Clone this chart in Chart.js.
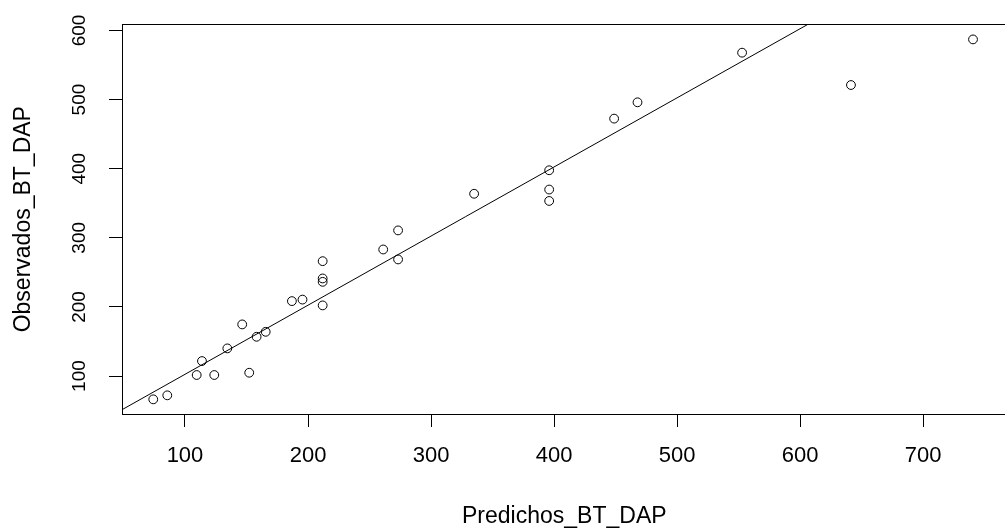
<!DOCTYPE html>
<html>
<head>
<meta charset="utf-8">
<script src="https://cdn.jsdelivr.net/npm/chart.js@4/dist/chart.umd.min.js"></script>
<style>
  html, body { margin: 0; padding: 0; background: #fff; overflow: hidden; width: 1005px; height: 530px; }
  #wrap { position: absolute; left: 0; top: 0; width: 1012px; height: 530px; }
</style>
</head>
<body>
<div id="wrap"><canvas id="c" width="1012" height="530"></canvas></div>
<script>
// Data
const predichos = [74.2, 85.6, 109.5, 113.8, 123.8, 134.4, 146.5, 152.2, 158.2, 165.6,
                   186.9, 195.5, 211.9, 211.9, 211.9, 211.9, 261.1, 273.2, 273.2, 335.0,
                   396.0, 396.0, 396.0, 448.8, 467.8, 552.8, 641.3, 740.5];
const observados = [66.3, 72.1, 101.5, 121.7, 101.5, 140.0, 174.7, 104.8, 156.8, 164.0,
                    208.4, 210.6, 266.2, 241.2, 236.3, 202.2, 283.1, 310.7, 268.7, 363.7,
                    397.7, 369.8, 353.3, 472.4, 496.0, 567.8, 521.0, 587.0];
const fitLineX = [0, 800];
const fitLineY = [2.5, 802.5];
const xTicks = [100, 200, 300, 400, 500, 600, 700];
const yTicks = [100, 200, 300, 400, 500, 600];
const xTitle = 'Predichos_BT_DAP';
const yTitle = 'Observados_BT_DAP';

const FONT = "'Liberation Sans', Arial, sans-serif";

const boxPlugin = {
  id: 'box',
  afterDraw(chart) {
    const a = chart.chartArea, ctx = chart.ctx;
    ctx.save();
    ctx.strokeStyle = '#000';
    ctx.lineWidth = 1;
    ctx.strokeRect(Math.round(a.left) + 0.5, Math.round(a.top) + 0.5,
                   Math.round(a.right - a.left), Math.round(a.bottom - a.top));
    ctx.restore();
  }
};

new Chart(document.getElementById('c'), {
  type: 'scatter',
  data: {
    datasets: [
      {
        label: 'obs',
        data: predichos.map((x, i) => ({ x: x, y: observados[i] })),
        pointStyle: 'circle',
        pointRadius: 4.4,
        pointBorderWidth: 1,
        pointBorderColor: '#000',
        pointBackgroundColor: 'rgba(0,0,0,0)',
        showLine: false
      },
      {
        label: 'fit',
        type: 'line',
        data: fitLineX.map((x, i) => ({ x: x, y: fitLineY[i] })),
        borderColor: '#000',
        borderWidth: 1,
        pointRadius: 0,
        fill: false,
        clip: 0
      }
    ]
  },
  options: {
    responsive: false,
    animation: false,
    devicePixelRatio: 1,
    layout: { padding: { top: 24, right: 5, left: 0, bottom: 0 } },
    plugins: { legend: { display: false }, tooltip: { enabled: false } },
    scales: {
      x: {
        type: 'linear',
        min: 48.8,
        max: 767.8,
        afterBuildTicks: s => { s.ticks = xTicks.map(v => ({ value: v })); },
        afterFit: s => { s.height = 116; },
        grid: { drawOnChartArea: false, drawTicks: true, tickLength: 13, color: '#000', lineWidth: 1 },
        border: { display: true, color: '#000', width: 1 },
        ticks: { color: '#000', font: { family: FONT, size: 22 }, padding: 16, maxRotation: 0, autoSkip: false },
        title: { display: true, text: xTitle, color: '#000', font: { family: FONT, size: 23 }, padding: { top: 3, bottom: 0 } }
      },
      y: {
        type: 'linear',
        min: 45.1,
        max: 608.7,
        afterBuildTicks: s => { s.ticks = yTicks.map(v => ({ value: v })); },
        afterFit: s => { s.width = 122; },
        grid: { drawOnChartArea: false, drawTicks: true, tickLength: 13, color: '#000', lineWidth: 1 },
        border: { display: true, color: '#000', width: 1 },
        ticks: { color: '#000', font: { family: FONT, size: 19 }, padding: 13, minRotation: 90, maxRotation: 90, crossAlign: 'center', autoSkip: false },
        title: { display: true, text: yTitle, color: '#000', font: { family: FONT, size: 23 }, padding: { top: 10, bottom: 0 } }
      }
    }
  },
  plugins: [boxPlugin]
});
</script>
</body>
</html>
